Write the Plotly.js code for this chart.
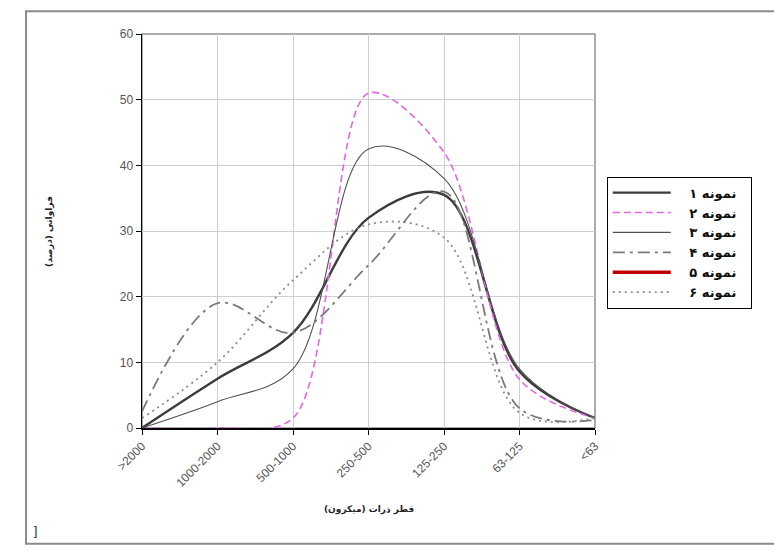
<!DOCTYPE html>
<html>
<head>
<meta charset="utf-8">
<script src="https://cdn.plot.ly/plotly-3.0.1.min.js"></script>
<style>html,body{margin:0;padding:0;background:#fff;}#chart{width:774px;height:554px;}</style>
</head>
<body>
<div id="chart"></div>
<script>
// Categories (particle diameter, micron)
const categories = ['>2000', '1000-2000', '500-1000', '250-500', '125-250', '63-125', '<63'];
// Series values (frequency %)
const sample1 = [0, 7.5, 14.5, 32, 35.5, 8.6, 1.5];
const sample2 = [0, 0, 1.5, 51, 42, 7.4, 1.5];
const sample3 = [0, 4, 9, 42.5, 38, 9, 1.5];
const sample4 = [2.5, 19, 14.5, 24.8, 36, 3, 1.2];
const sample5 = [null, null, null, null, null, null, null];
const sample6 = [1.5, 10, 22.5, 31, 29, 2.3, 1.5];
const seriesNames = ['۱ نمونه', '۲ نمونه', '۳ نمونه', '۴ نمونه', '۵ نمونه', '۶ نمونه'];
const xTitle = 'قطر ذرات (میکرون)';
const yTitle = 'فراوانی (درصد)';
const yTicks = [0, 10, 20, 30, 40, 50, 60];

// pad legend labels (visual spacing only)
const padStart = '\u00A0'.repeat(3), padEnd = '\u00A0'.repeat(2);
function tr(y, name, line, smoothing) {
  return {
    x: categories, y: y, name: padStart + name + padEnd, type: 'scatter', mode: 'lines',
    line: Object.assign({shape: 'spline', smoothing: smoothing}, line)
  };
}

const data = [
  tr(sample1, seriesNames[0], {color: '#3c3c3c', width: 2.4}, 1),
  tr(sample2, seriesNames[1], {color: '#e466e4', width: 1.6, dash: '7px,4px'}, 0.9),
  tr(sample3, seriesNames[2], {color: '#505050', width: 1.1}, 1),
  tr(sample4, seriesNames[3], {color: '#7a7a7a', width: 1.8, dash: '12px,5px,3px,5px'}, 1),
  tr(sample5, seriesNames[4], {color: '#c00000', width: 3.5}, 1),
  tr(sample6, seriesNames[5], {color: '#8c8c8c', width: 1.8, dash: '2px,4px'}, 1)
];

const layout = {
  width: 774, height: 554,
  margin: {l: 142, r: 179, t: 34, b: 126, autoexpand: false},
  paper_bgcolor: '#fff', plot_bgcolor: '#fff',
  showlegend: true,
  font: {family: 'Liberation Sans, Arial, sans-serif', size: 12, color: '#444'},
  xaxis: {
    type: 'category', range: [0, 6], tickangle: -45,
    showgrid: true, gridcolor: '#cfcfcf', gridwidth: 1,
    showline: true, linecolor: '#000', linewidth: 1.5,
    ticks: 'outside', ticklen: 5, tickcolor: '#000',
    tickfont: {size: 12, color: '#555'}, zeroline: false, fixedrange: true
  },
  yaxis: {
    range: [0, 60], tickvals: yTicks,
    showgrid: true, gridcolor: '#cfcfcf', gridwidth: 1,
    showline: true, linecolor: '#000', linewidth: 1.5,
    ticks: 'outside', ticklen: 5, tickcolor: '#000',
    tickfont: {size: 12, color: '#555'}, zeroline: false, fixedrange: true
  },
  legend: {
    x: 1.026, xanchor: 'left', y: 0.638, yanchor: 'top',
    bgcolor: '#fff', bordercolor: '#000', borderwidth: 1,
    font: {family: 'DejaVu Sans, sans-serif', size: 13, color: '#111', weight: 'bold'},
    itemwidth: 58, tracegroupgap: 0
  },
  shapes: [
    {type: 'rect', xref: 'paper', yref: 'paper', x0: 0, x1: 1, y0: 0, y1: 1,
     line: {color: '#909090', width: 1.5}, layer: 'below'},
    {type: 'path', xref: 'paper', yref: 'paper',
     path: 'M 1.45 1.058 L -0.256 1.058 L -0.256 -0.294 L 1.45 -0.294',
     line: {color: '#8a8a8a', width: 2}}
  ],
  annotations: [
    {text: yTitle, xref: 'paper', yref: 'paper', x: -0.222, y: 0.5, textangle: -90,
     showarrow: false, font: {family: 'DejaVu Sans, sans-serif', size: 9, color: '#222', weight: 'bold'}},
    {text: xTitle, xref: 'paper', yref: 'paper', x: 0.5, y: -0.226,
     showarrow: false, font: {family: 'DejaVu Sans, sans-serif', size: 9, color: '#222', weight: 'bold'}},
    {text: ']', xref: 'paper', yref: 'paper', x: -0.243, y: -0.285, showarrow: false,
     font: {size: 12, color: '#222'}}
  ]
};

Plotly.newPlot('chart', data, layout, {displayModeBar: false, staticPlot: true});
</script>
</body>
</html>
